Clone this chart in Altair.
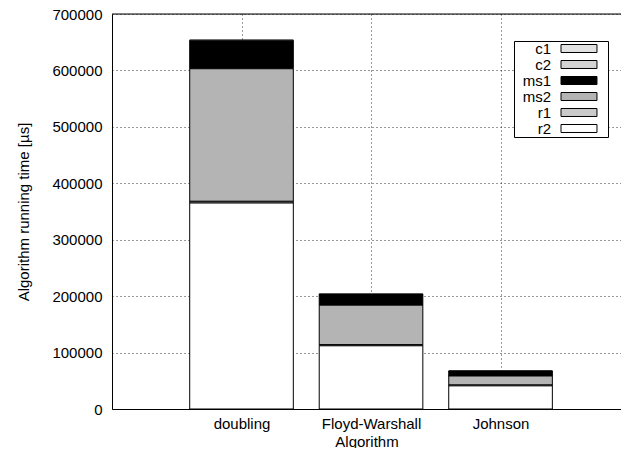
import altair as alt
import pandas as pd

# ---- data ----
algorithms = ["doubling", "Floyd-Warshall", "Johnson"]
positions = [0, 1, 2]
series = ["c1", "c2", "ms1", "ms2", "r1", "r2"]
stack_rank = [5, 4, 3, 2, 1, 0]          # r2 at the bottom, c1 on top
c1 = [1500, 1000, 500]
c2 = [1500, 1000, 500]
ms1 = [48000, 18000, 8000]
ms2 = [235000, 70000, 16000]
r1 = [3000, 2000, 1500]
r2 = [365000, 112000, 41000]
y_ticks = [0, 100000, 200000, 300000, 400000, 500000, 600000, 700000]
y_max = [700000]

fills = ["#e2e2e2", "#d4d4d4", "#000000", "#b4b4b4", "#cacaca", "#ffffff"]

values = {"c1": c1, "c2": c2, "ms1": ms1, "ms2": ms2, "r1": r1, "r2": r2}
rows = []
for s, rank in zip(series, stack_rank):
    for a, p, v in zip(algorithms, positions, values[s]):
        rows.append({"alg": a, "pos": p, "series": s, "rank": rank, "value": v})
df = pd.DataFrame(rows)

FONT = "Liberation Sans"
W, H = 509, 395
label_expr = ("datum.value == 0 ? 'doubling' : datum.value == 1 ? 'Floyd-Warshall' : "
              "datum.value == 2 ? 'Johnson' : ''")

xscale = alt.Scale(domain=[-1, 2.93], nice=False, zero=False)
yscale = alt.Scale(domain=[0, 700000], nice=False)

bars = (
    alt.Chart(df)
    .transform_stack(stack="value", groupby=["alg"], as_=["y0", "y1"],
                     sort=[alt.SortField("rank", order="ascending")])
    .transform_calculate(xa="datum.pos - 0.4", xb="datum.pos + 0.4")
    .mark_bar(stroke="black", strokeWidth=1)
    .encode(
        x=alt.X("xa:Q", scale=xscale,
                axis=alt.Axis(values=positions, labelExpr=label_expr, title="Algorithm",
                              grid=True, gridDash=[1, 3], gridColor="#333",
                              ticks=False, labelPadding=7, labelFontSize=15,
                              labelFont=FONT, labelColor="black", titleFont=FONT,
                              titleFontSize=15, titleFontWeight="normal",
                              titleColor="black", titleY=37,
                              titleBaseline="alphabetic",
                              domainColor="black", labelFlush=False)),
        x2="xb:Q",
        y=alt.Y("y0:Q", scale=yscale,
                axis=alt.Axis(values=y_ticks, format="d",
                              title="Algorithm running time [µs]",
                              grid=True, gridDash=[1, 3], gridColor="#333",
                              ticks=False, labelPadding=10, labelFontSize=15,
                              labelFont=FONT, labelColor="black", titleFont=FONT,
                              titleFontSize=15, titleFontWeight="normal",
                              titleColor="black", titlePadding=20,
                              domainColor="black")),
        y2="y1:Q",
        fill=alt.Fill("series:N",
                      scale=alt.Scale(domain=series, range=fills),
                      legend=alt.Legend(
                          orient="none", legendX=402, legendY=27, title=None,
                          direction="vertical",
                          symbolType="M2.5,-0.57H7.64V0.57H2.5ZM8.8,0",
                          symbolSize=196,
                          symbolStrokeColor="black", symbolStrokeWidth=1,
                          symbolOpacity=1,
                          labelAlign="right", labelOffset=0,
                          symbolOffset=22, rowPadding=0, padding=0,
                          labelFont=FONT, labelFontSize=15, labelColor="black",
                          strokeColor="black", fillColor="white",
                          labelLimit=200)),
    )
)

top = (
    alt.Chart(pd.DataFrame({"y": y_max}))
    .mark_rule(color="black", strokeWidth=1)
    .encode(y=alt.Y("y:Q", scale=yscale), x=alt.value(0), x2=alt.value(W))
)

chart = (
    alt.layer(bars, top)
    .properties(width=W, height=H,
                autosize=alt.AutoSizeParams(type="none"),
                padding={"left": 104, "top": 6, "right": 0, "bottom": 39})
    .configure_view(stroke=None)
    .configure(background="white")
)

chart.save("out.html", embed_options={"renderer": "svg", "actions": False})
